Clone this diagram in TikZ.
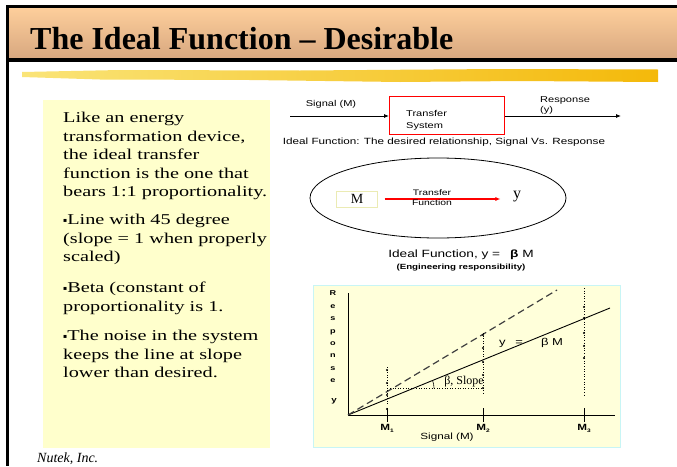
\documentclass[tikz,border=0pt]{standalone}
\usepackage{fontspec}
\newfontfamily\timesfont{Liberation Serif}
\newfontfamily\widearial[FakeStretch=1.3]{Liberation Sans}
\newfontfamily\bodyfont[FakeStretch=1.35]{Liberation Serif}
\newfontfamily\symfont{DejaVu Sans}
\usepackage{xcolor}
\definecolor{headtop}{RGB}{253, 206, 155}
\definecolor{headbot}{RGB}{216, 168, 128}
\definecolor{notefill}{RGB}{255, 255, 204}
\definecolor{plotfill}{RGB}{255, 255, 218}
\definecolor{plotedge}{RGB}{200, 245, 245}
\definecolor{mboxedge}{RGB}{235, 235, 180}
\definecolor{brushA}{RGB}{250, 228, 120}
\definecolor{brushB}{RGB}{244, 185, 10}
\usetikzlibrary{arrows.meta, positioning, shapes.geometric}

\newcommand{\sqbullet}{\raisebox{2pt}{\symfont\fontsize{6}{6}\selectfont ▪}}

\begin{document}
\begin{tikzpicture}[x=1pt, y=-1pt, >={Latex[length=5pt, width=4pt]}]

    \useasboundingbox (0,0) rectangle (677,466);
    \fill[white] (0,0) rectangle (677,466);

    % Header band and frame
    \shade[top color=headtop, bottom color=headbot] (8,8) rectangle (677,58);
    \fill[black] (6,5) rectangle (677,8);
    \fill[black] (6,5) rectangle (9,466);
    \fill[black] (9,58) rectangle (677,62);
    \node[anchor=base west, inner sep=0, font=\timesfont\bfseries\fontsize{32}{32}\selectfont] (title) at (30,49)
        {The Ideal Function – Desirable};

    % Yellow brush stroke
    \shade[left color=brushA, right color=brushB] (22,72) -- (120,70) -- (300,70.5) -- (500,69) -- (658,69.5)
        -- (658,82) -- (520,81) -- (400,82) -- (250,80) -- (100,79.5) -- (22,77) -- cycle;

    % Left note
    \node[fill=notefill, minimum width=227, minimum height=348, anchor=north west, inner sep=0] (note) at (43,100) {};
    \node[anchor=north west, align=left, inner sep=0, font=\bodyfont\fontsize{15}{18.5}\selectfont] (para1) at (63,112)
        {Like an energy\\transformation device,\\the ideal transfer\\function is the one that\\bears 1:1 proportionality.};
    \node[anchor=north west, align=left, inner sep=0, font=\bodyfont\fontsize{15}{18.5}\selectfont] (para2) at (63,214)
        {\sqbullet Line with 45 degree\\(slope = 1 when properly\\scaled)};
    \node[anchor=north west, align=left, inner sep=0, font=\bodyfont\fontsize{15}{18.5}\selectfont] (para3) at (63,282)
        {\sqbullet Beta (constant of\\proportionality is 1.};
    \node[anchor=north west, align=left, inner sep=0, font=\bodyfont\fontsize{15}{18.5}\selectfont] (para4) at (63,330)
        {\sqbullet The noise in the system\\keeps the line at slope\\lower than desired.};

    % Footer
    \node[anchor=base west, inner sep=0, font=\timesfont\itshape\fontsize{14}{14}\selectfont] (footer) at (37,462)
        {Nutek, Inc.};

    % Transfer system block
    \node[draw=red, line width=1pt, minimum width=115, minimum height=38, anchor=north west, inner sep=0] (transfer) at (389,96) {};
    \node[align=left, anchor=west, inner sep=0, font=\widearial\fontsize{8.5}{12}\selectfont] (transfertext) at (406,120)
        {Transfer\\System};
    \coordinate (sigin) at (290,116);
    \coordinate (respout) at (621,116);
    \draw[->, line width=0.8pt] (sigin) -- (transfer.west |- sigin);
    \draw[->, line width=0.8pt] (transfer.east |- respout) -- (respout);
    \node[font=\widearial\fontsize{8.5}{8.5}\selectfont, inner sep=0] (signallabel) at (331,104) {Signal (M)};
    \node[align=left, anchor=north west, inner sep=0, font=\widearial\fontsize{8.5}{10}\selectfont] (resplabel) at (540,96)
        {Response\\(y)};
    \node[font=\widearial\fontsize{9}{9}\selectfont, inner sep=0] (relation) at (444,142)
        {Ideal Function: The desired relationship, Signal Vs. Response};

    % Ideal function oval
    \node[draw, ellipse, line width=0.8pt, minimum width=256, minimum height=80, inner sep=0] (idealoval) at (438,198) {};
    \node[draw=mboxedge, fill=white, minimum width=41, minimum height=16, inner sep=0,
        font=\timesfont\fontsize{14}{14}\selectfont] (mnode) at (357,199) {M};
    \node[font=\timesfont\fontsize{16}{16}\selectfont] (ynode) at (517,197) {y};
    \draw[->, red, line width=1.2pt, shorten <=7pt, shorten >=9pt] (mnode) -- (ynode.west |- mnode);
    \node[align=center, inner sep=0, font=\widearial\fontsize{8}{10}\selectfont] (tflabel) at (432,198)
        {Transfer\\Function};
    \node[inner sep=0, font=\widearial\fontsize{10.5}{10.5}\selectfont] (idealeq) at (461,255)
        {Ideal Function, y =\hspace{10pt}\textbf{β} M};
    \node[inner sep=0, below=4pt of idealeq, font=\widearial\bfseries\fontsize{7.5}{7.5}\selectfont] (engresp)
        {(Engineering responsibility)};

    % Response plot
    \node[draw=plotedge, fill=plotfill, line width=1pt, minimum width=307, minimum height=162, anchor=north west, inner sep=0] (plotbox) at (313,285) {};
    \coordinate (origin) at (348,415);
    \coordinate (yend) at (348,293);
    \coordinate (xend) at (615,415);
    \coordinate (solidend) at (610,308);
    \coordinate (dashend) at (557,290);
    \draw[line width=0.8pt] (yend) -- (origin) -- (xend);
    \draw[line width=0.9pt] (origin) -- (solidend);
    \draw[black!75, line width=1.2pt, dash pattern=on 7pt off 4pt] (origin) -- (dashend);

    % Ticks, dotted verticals and measured points
    \foreach \x/\idx/\top/\bot in {387/1/367/405, 483/2/333/395, 584/3/288/397} {
        \draw[line width=0.8pt] (\x,408) -- (\x,422);
        \draw[dotted, line width=0.6pt] (\x,\top) -- (\x,\bot);
        \node[inner sep=0, font=\widearial\bfseries\fontsize{9}{9}\selectfont] (tick\idx) at (\x,428)
            {M\raisebox{-2pt}{\fontsize{5}{5}\selectfont\idx}};
    }
    \foreach \y in {370, 383, 395, 409} \fill (387,\y) circle (1.1);
    \foreach \y in {335, 348, 362, 375, 388} \fill (483,\y) circle (1.1);
    \foreach \y in {307, 318, 333, 346, 358} \fill (584,\y) circle (1.1);

    % Slope mark
    \coordinate (slopefoot) at (414,388);
    \draw[dotted, line width=0.6pt] (390,388) -- (482,388);
    \draw[line width=0.6pt] (slopefoot) ++(20,0) arc[start angle=0, end angle=-22, radius=20];
    \node[inner sep=0, font=\timesfont\fontsize{12}{12}\selectfont] (slopelabel) at (464,382) {β, Slope};
    \node[inner sep=0, font=\widearial\fontsize{10}{10}\selectfont] (linelabel) at (531,343)
        {y\hspace{10pt}=\hspace{18pt}β M};

    % Axis labels
    \node[align=center, inner sep=0, font=\widearial\bfseries\fontsize{7}{12.4}\selectfont] (resplbl) at (333,337)
        {R\\e\\s\\p\\o\\n\\s\\e};
    \node[inner sep=0, font=\widearial\bfseries\fontsize{7.5}{7.5}\selectfont] (ylbl) at (334,401) {y};
    \node[inner sep=0, font=\widearial\fontsize{9}{9}\selectfont] (xlbl) at (447,437) {Signal (M)};

\end{tikzpicture}
\end{document}
